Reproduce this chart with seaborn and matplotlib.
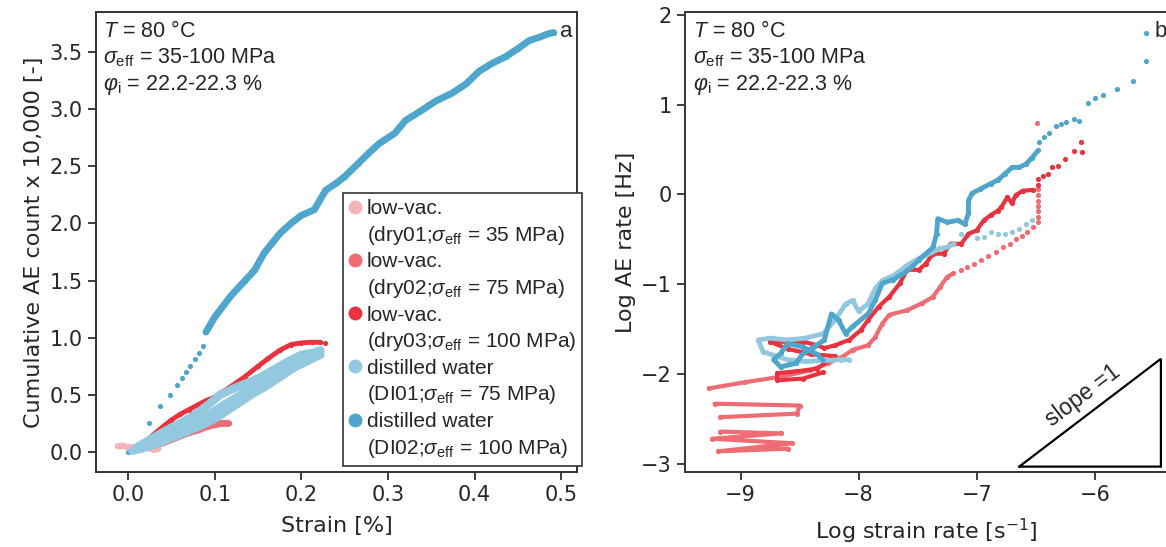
import matplotlib
matplotlib.use("Agg")
import matplotlib.pyplot as plt
from matplotlib.lines import Line2D
import seaborn as sns
import pandas as pd

# ---------------- series colours ----------------
colors = {
    "dry01": "#F4B4B7",
    "dry02": "#EE6D74",
    "dry03": "#E8333F",
    "DI01": "#93C8DF",
    "DI02": "#4EA6CD",
}
keys = ["dry01", "dry02", "dry03", "DI01", "DI02"]
label_top = {
    "dry01": "low-vac.",
    "dry02": "low-vac.",
    "dry03": "low-vac.",
    "DI01": "distilled water",
    "DI02": "distilled water",
}
label_bottom = {
    "dry01": "(dry01;$\\sigma_{\\rm eff}$ = 35 MPa)",
    "dry02": "(dry02;$\\sigma_{\\rm eff}$ = 75 MPa)",
    "dry03": "(dry03;$\\sigma_{\\rm eff}$ = 100 MPa)",
    "DI01": "(DI01;$\\sigma_{\\rm eff}$ = 75 MPa)",
    "DI02": "(DI02;$\\sigma_{\\rm eff}$ = 100 MPa)",
}

# ---------------- (a) cumulative AE count vs strain ----------------
a_dry01_x = [-0.012, -0.006, 0.0, 0.008, 0.015, 0.022, 0.030, 0.035]
a_dry01_y = [0.05, 0.055, 0.04, 0.045, 0.03, 0.035, 0.02, 0.03]

a_dry02_x = [0.012, 0.020, 0.030, 0.040, 0.050, 0.060, 0.070, 0.080, 0.090, 0.100, 0.108, 0.116]
a_dry02_y = [0.03, 0.04, 0.06, 0.08, 0.11, 0.14, 0.17, 0.19, 0.22, 0.24, 0.25, 0.25]

a_dry03_x = [0.012, 0.020, 0.029, 0.040, 0.050, 0.060, 0.070, 0.080, 0.090, 0.100,
             0.110, 0.120, 0.135, 0.150, 0.162, 0.175, 0.188, 0.200, 0.212, 0.222]
a_dry03_y = [0.03, 0.09, 0.15, 0.22, 0.28, 0.33, 0.37, 0.41, 0.45, 0.48,
             0.53, 0.58, 0.66, 0.75, 0.82, 0.89, 0.94, 0.955, 0.96, 0.96]
a_dry03_pts_x = [0.014, 0.227]
a_dry03_pts_y = [0.02, 0.955]

# DI01 forms a broad band: lower edge, centre and upper edge of the cloud
a_di01_lo_x = [0.005, 0.020, 0.036, 0.052, 0.068, 0.084, 0.100, 0.112, 0.128, 0.144,
               0.160, 0.176, 0.192, 0.208, 0.222]
a_di01_lo_y = [0.01, 0.04, 0.08, 0.13, 0.18, 0.23, 0.29, 0.35, 0.43, 0.51,
               0.58, 0.66, 0.74, 0.80, 0.85]
a_di01_mid_x = [0.010, 0.030, 0.050, 0.070, 0.090, 0.110, 0.130, 0.150, 0.170, 0.190,
                0.210, 0.222]
a_di01_mid_y = [0.03, 0.09, 0.15, 0.22, 0.31, 0.41, 0.50, 0.58, 0.67, 0.76,
                0.83, 0.87]
a_di01_hi_x = [0.012, 0.028, 0.044, 0.060, 0.076, 0.092, 0.106, 0.120, 0.136, 0.152,
               0.168, 0.184, 0.200, 0.215, 0.222]
a_di01_hi_y = [0.05, 0.12, 0.19, 0.25, 0.32, 0.41, 0.50, 0.55, 0.60, 0.65,
               0.72, 0.79, 0.85, 0.87, 0.89]

a_di02_pts_x = [0.0, 0.024, 0.037, 0.048, 0.056, 0.062, 0.067, 0.072, 0.077, 0.082, 0.086]
a_di02_pts_y = [0.0, 0.25, 0.40, 0.50, 0.59, 0.65, 0.70, 0.75, 0.81, 0.87, 0.93]
a_di02_x = [0.090, 0.100, 0.118, 0.135, 0.146, 0.157, 0.175, 0.188, 0.200, 0.215,
            0.228, 0.240, 0.250, 0.265, 0.277, 0.290, 0.308, 0.320, 0.339, 0.355,
            0.374, 0.390, 0.405, 0.420, 0.436, 0.450, 0.463, 0.475, 0.485, 0.491]
a_di02_y = [1.05, 1.18, 1.36, 1.50, 1.59, 1.74, 1.91, 2.00, 2.07, 2.12,
            2.29, 2.35, 2.41, 2.52, 2.61, 2.70, 2.79, 2.90, 2.99, 3.07,
            3.14, 3.22, 3.33, 3.40, 3.46, 3.53, 3.60, 3.63, 3.66, 3.67]

# ---------------- (b) log AE rate vs log strain rate ----------------
b_dry02_pts_x = [-6.49, -6.48, -6.48, -6.48, -6.48, -6.48, -6.48, -6.48,
                 -6.52, -6.57, -6.62, -6.67, -6.72, -6.78, -6.84, -6.90, -6.96, -7.02, -7.08, -7.13]
b_dry02_pts_y = [0.79, 0.06, -0.01, -0.07, -0.13, -0.19, -0.25, -0.31,
                 -0.36, -0.42, -0.46, -0.50, -0.55, -0.59, -0.64, -0.69, -0.73, -0.77, -0.81, -0.84]
b_dry02_x = [-7.20, -7.25, -7.31, -7.37, -7.46, -7.59, -7.74, -7.80, -7.86, -7.92,
             -8.05, -8.14, -8.26, -8.41, -8.66, -8.96, -9.27]
b_dry02_y = [-0.88, -0.92, -1.03, -1.14, -1.21, -1.29, -1.34, -1.44, -1.59, -1.68,
             -1.73, -1.81, -1.88, -1.96, -2.03, -2.09, -2.16]
b_dry02_z1_x = [-9.22, -8.50, -8.52, -9.17]
b_dry02_z1_y = [-2.33, -2.35, -2.44, -2.48]
b_dry02_z2_x = [-9.17, -8.66, -9.24, -8.56, -9.19, -8.60]
b_dry02_z2_y = [-2.64, -2.66, -2.72, -2.77, -2.86, -2.83]

b_dry03_pts_x = [-6.12, -6.18, -6.11, -6.25, -6.31, -6.36, -6.40, -6.44, -6.48, -6.48]
b_dry03_pts_y = [0.58, 0.48, 0.47, 0.39, 0.32, 0.31, 0.23, 0.21, 0.17, 0.10]
b_dry03_x = [-6.52, -6.61, -6.67, -6.70, -6.74, -6.79, -6.82, -6.88, -6.94, -7.00,
             -7.07, -7.13, -7.22, -7.28, -7.37, -7.43, -7.49, -7.59, -7.65, -7.74,
             -7.83, -7.92, -7.98, -8.08, -8.20, -8.29, -8.35, -8.47, -8.60, -8.75,
             -8.60, -8.40, -8.20, -8.35, -8.53, -8.69, -8.69, -8.47, -8.30]
b_dry03_y = [0.05, 0.04, -0.01, -0.10, -0.03, -0.14, -0.18, -0.23, -0.29, -0.40,
             -0.44, -0.55, -0.55, -0.66, -0.66, -0.77, -0.84, -0.84, -0.99, -1.14,
             -1.25, -1.40, -1.51, -1.62, -1.68, -1.71, -1.68, -1.64, -1.64, -1.64,
             -1.72, -1.78, -1.80, -1.94, -1.97, -1.99, -2.07, -2.05, -1.98]

b_di01_pts_x = [-6.53, -6.58, -6.64, -6.70, -6.76, -6.82, -6.88, -6.94, -7.00, -7.07, -7.13]
b_di01_pts_y = [-0.29, -0.33, -0.38, -0.42, -0.44, -0.44, -0.42, -0.47, -0.48, -0.45, -0.44]
b_di01_x = [-7.19, -7.25, -7.31, -7.40, -7.50, -7.60, -7.70, -7.80, -7.86, -7.92,
            -8.00, -8.05, -8.11, -8.20, -8.30, -8.45, -8.60, -8.75, -8.85, -8.81,
            -8.70, -8.60, -8.45, -8.30, -8.15, -8.08]
b_di01_y = [-0.55, -0.59, -0.60, -0.66, -0.72, -0.80, -0.90, -0.96, -1.05, -1.22,
            -1.30, -1.18, -1.22, -1.40, -1.55, -1.60, -1.62, -1.60, -1.62, -1.75,
            -1.80, -1.84, -1.86, -1.85, -1.84, -1.84]

b_di02_pts_x = [-5.57, -5.57, -5.68, -5.81, -5.93, -6.00, -6.06, -6.13, -6.18, -6.24,
                -6.29, -6.33, -6.39, -6.43, -6.47]
b_di02_pts_y = [1.80, 1.48, 1.26, 1.17, 1.11, 1.07, 1.02, 0.82, 0.84, 0.80,
                0.78, 0.76, 0.68, 0.64, 0.58]
b_di02_x = [-6.48, -6.53, -6.58, -6.64, -6.70, -6.76, -6.82, -6.88, -6.97, -7.04,
            -7.07, -7.07, -7.10, -7.16, -7.25, -7.33, -7.34, -7.37, -7.43, -7.49,
            -7.55, -7.62, -7.71, -7.80, -7.86, -7.92, -8.05, -8.11, -8.17, -8.23,
            -8.26, -8.29, -8.38, -8.47, -8.53, -8.66, -8.72, -8.66, -8.60, -8.47,
            -8.35, -8.30]
b_di02_y = [0.49, 0.41, 0.34, 0.30, 0.30, 0.23, 0.16, 0.12, 0.06, 0.01,
            -0.07, -0.21, -0.33, -0.29, -0.31, -0.27, -0.44, -0.59, -0.66, -0.73,
            -0.81, -0.88, -0.95, -0.99, -1.18, -1.33, -1.47, -1.55, -1.40, -1.33,
            -1.47, -1.62, -1.70, -1.77, -1.88, -1.92, -1.84, -1.77, -1.66, -1.70,
            -1.78, -1.85]

# slope guide triangle (lower-left corner and side length, in log units)
tri_x0, tri_y0, tri_side = -6.64, -3.03, 1.2

# ---------------- styling ----------------
sns.set_style("ticks")
plt.rcParams["font.family"] = ["DejaVu Sans"]
plt.rcParams["mathtext.fontset"] = "custom"
plt.rcParams["mathtext.rm"] = "Liberation Sans"
plt.rcParams["mathtext.it"] = "Liberation Sans:italic"
plt.rcParams["mathtext.default"] = "it"

fig = plt.figure(figsize=(11.66, 5.47), dpi=100)
ax_a = fig.add_axes([0.0823, 0.1371, 0.4125, 0.841])
ax_b = fig.add_axes([0.5875, 0.1371, 0.4142, 0.841])

DOT = 14


def path(ax, x, y, key, lw, with_dots=True):
    df = pd.DataFrame({"x": x, "y": y})
    sns.lineplot(data=df, x="x", y="y", ax=ax, sort=False, estimator=None,
                 color=colors[key], lw=lw, solid_capstyle="round",
                 solid_joinstyle="round")
    if with_dots:
        sns.scatterplot(data=df, x="x", y="y", ax=ax, color=colors[key],
                        s=DOT, linewidth=0)


def dots(ax, x, y, key):
    df = pd.DataFrame({"x": x, "y": y})
    sns.scatterplot(data=df, x="x", y="y", ax=ax, color=colors[key],
                    s=DOT, linewidth=0)


# panel (a)
path(ax_a, a_dry01_x, a_dry01_y, "dry01", 4.5)
path(ax_a, a_dry02_x, a_dry02_y, "dry02", 5)
path(ax_a, a_dry03_x, a_dry03_y, "dry03", 3.5)
dots(ax_a, a_dry03_pts_x, a_dry03_pts_y, "dry03")
path(ax_a, a_di01_lo_x, a_di01_lo_y, "DI01", 6, with_dots=False)
path(ax_a, a_di01_mid_x, a_di01_mid_y, "DI01", 6, with_dots=False)
path(ax_a, a_di01_hi_x, a_di01_hi_y, "DI01", 6)
dots(ax_a, a_di02_pts_x, a_di02_pts_y, "DI02")
path(ax_a, a_di02_x, a_di02_y, "DI02", 5)

# panel (b)
path(ax_b, b_dry02_x, b_dry02_y, "dry02", 3)
path(ax_b, b_dry02_z1_x, b_dry02_z1_y, "dry02", 3)
path(ax_b, b_dry02_z2_x, b_dry02_z2_y, "dry02", 3)
dots(ax_b, b_dry02_pts_x, b_dry02_pts_y, "dry02")
path(ax_b, b_dry03_x, b_dry03_y, "dry03", 3)
dots(ax_b, b_dry03_pts_x, b_dry03_pts_y, "dry03")
path(ax_b, b_di01_x, b_di01_y, "DI01", 3.5)
dots(ax_b, b_di01_pts_x, b_di01_pts_y, "DI01")
path(ax_b, b_di02_x, b_di02_y, "DI02", 3.5)
dots(ax_b, b_di02_pts_x, b_di02_pts_y, "DI02")

tri_x = [tri_x0, tri_x0 + tri_side, tri_x0 + tri_side, tri_x0]
tri_y = [tri_y0, tri_y0, tri_y0 + tri_side, tri_y0]
ax_b.plot(tri_x, tri_y, color="black", lw=1.6, solid_joinstyle="miter")
# label sits just above the hypotenuse, offset perpendicular to it
hyp_pt = (tri_x0 + tri_side * 0.52, tri_y0 + tri_side * 0.52)
ax_b.annotate("slope =1", xy=hyp_pt, xytext=(-7.0, 10.5), textcoords="offset points",
              rotation=37, rotation_mode="anchor", ha="center", va="center",
              fontsize=16.5, family="Liberation Sans")

# axes limits, ticks, labels
ax_a.set_xlim(-0.037, 0.518)
ax_a.set_ylim(-0.175, 3.85)
ax_a.set_xticks([0.0, 0.1, 0.2, 0.3, 0.4, 0.5])
ax_a.set_yticks([0.0, 0.5, 1.0, 1.5, 2.0, 2.5, 3.0, 3.5])
ax_a.set_xlabel("Strain [%]", fontsize=16, labelpad=8)
ax_a.set_ylabel("Cumulative AE count x 10,000 [-]", fontsize=16)

ax_b.set_xlim(-9.47, -5.38)
ax_b.set_ylim(-3.09, 2.03)
ax_b.set_xticks([-9, -8, -7, -6])
ax_b.set_yticks([-3, -2, -1, 0, 1, 2])
ax_b.set_xlabel("Log strain rate [s$\\mathregular{^{-1}}$]", fontsize=16, labelpad=8)
ax_b.set_ylabel("Log AE rate [Hz]", fontsize=16)

for ax in (ax_a, ax_b):
    ax.tick_params(labelsize=15, length=6, width=1.25)
    for sp in ax.spines.values():
        sp.set_linewidth(1.4)
        sp.set_color("#333333")

# condition annotations
info = ["$T$ = 80 °C",
        "$\\sigma_{\\rm eff}$ = 35-100 MPa",
        "$\\varphi_{\\rm i}$ = 22.2-22.3 %"]
for ax, x0 in ((ax_a, 0.015), (ax_b, 0.017)):
    for line, yb in zip(info, (0.946, 0.888, 0.830)):
        ax.text(x0, yb, line, transform=ax.transAxes, va="baseline", ha="left",
                fontsize=15.5, family="Liberation Sans")

ax_a.text(0.99, 0.946, "a", transform=ax_a.transAxes, ha="right", va="baseline",
          fontsize=16, family="Liberation Sans")
ax_b.text(0.997, 0.946, "b", transform=ax_b.transAxes, ha="right", va="baseline",
          fontsize=16, family="Liberation Sans")

# legend: marker on the first line of each two-line entry
handles, texts = [], []
for k in keys:
    handles.append(Line2D([], [], ls="none", marker="o", markersize=10,
                          markerfacecolor=colors[k], markeredgewidth=0))
    texts.append(label_top[k])
    handles.append(Line2D([], [], ls="none", marker=None))
    texts.append(label_bottom[k])
leg = ax_a.legend(handles, texts,
                  loc="upper left", bbox_to_anchor=(0.513, 0.607),
                  borderaxespad=0, fancybox=False, framealpha=1,
                  edgecolor="#333333", handlelength=0.6, handletextpad=0.25,
                  labelspacing=0.27, borderpad=0.3,
                  prop={"family": "Liberation Sans", "size": 15})
leg.get_frame().set_linewidth(1.2)

fig.savefig("out.png", dpi=100)
